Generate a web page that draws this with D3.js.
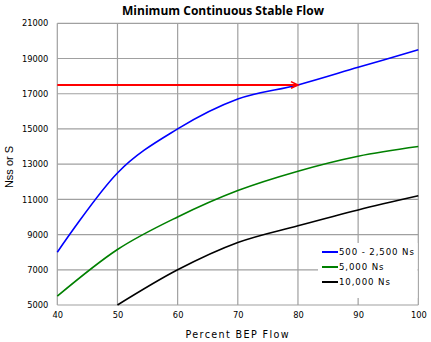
<!DOCTYPE html>
<html><head><meta charset="utf-8">
<script src="https://cdn.jsdelivr.net/npm/d3@7"></script>
<style>
html,body{margin:0;padding:0;background:#fff;}
svg{display:block;}
</style></head>
<body>
<svg id="c" width="431" height="342"></svg>
<script>
const title = "Minimum Continuous Stable Flow";
const xTitle = "Percent BEP Flow";
const yTitle = "Nss or S";
const xTicks = [40,50,60,70,80,90,100];
const yTicks = [5000,7000,9000,11000,13000,15000,17000,19000,21000];
const pct = [40,50,60,70,80,90,100];
const blueVals  = [8000,12500,15000,16700,17500,18500,19500];
const greenVals = [5500,8150,10000,11500,12600,13450,14000];
const pctBlack = [50,60,70,80,90,100];
const blackVals = [5000,7000,8550,9500,10400,11200];
const seriesNames = ["500 - 2,500 Ns","5,000 Ns","10,000 Ns"];
const seriesColors = ["#0000ff","#008000","#000000"];
const arrowY = 17500, arrowFrom = 40, arrowTo = 80;

const svg = d3.select("#c");
const x = d3.scaleLinear().domain([40,100]).range([57.3,418.3]);
const y = d3.scaleLinear().domain([5000,21000]).range([305,23.3]);

// grid
const g = svg.append("g");
g.selectAll("line.h").data(yTicks).join("line")
  .attr("x1",x(40)).attr("x2",x(100)).attr("y1",d=>y(d)).attr("y2",d=>y(d))
  .attr("stroke","#a0a0a0").attr("stroke-width",1.2);
g.selectAll("line.v").data(xTicks).join("line")
  .attr("y1",y(5000)).attr("y2",y(21000)).attr("x1",d=>x(d)).attr("x2",d=>x(d))
  .attr("stroke","#a0a0a0").attr("stroke-width",1.2);

// axes labels via d3 axes
const yAxis = svg.append("g").attr("transform",`translate(${x(40)},0)`)
  .call(d3.axisLeft(y).tickValues(yTicks).tickSize(0).tickPadding(9).tickFormat(d3.format("d")));
yAxis.select(".domain").remove();
yAxis.selectAll("text").attr("font-family","DejaVu Sans").attr("font-size","8.3px").attr("fill","#000");

const xAxis = svg.append("g").attr("transform",`translate(0,${y(5000)})`)
  .call(d3.axisBottom(x).tickValues(xTicks).tickSize(0).tickPadding(7).tickFormat(d3.format("d")));
xAxis.select(".domain").remove();
xAxis.selectAll("text").attr("font-family","DejaVu Sans").attr("font-size","8.3px").attr("fill","#000");

// lines
const line = d3.line().x(d=>x(d[0])).y(d=>y(d[1])).curve(d3.curveCardinal.tension(0));
const series = [
  pct.map((p,i)=>[p,blueVals[i]]),
  pct.map((p,i)=>[p,greenVals[i]]),
  pctBlack.map((p,i)=>[p,blackVals[i]])
];
svg.selectAll("path.s").data(series).join("path")
  .attr("d",line).attr("fill","none")
  .attr("stroke",(d,i)=>seriesColors[i]).attr("stroke-width",1.6);

// red arrow
svg.append("line").attr("x1",x(arrowFrom)).attr("x2",x(arrowTo)-1)
  .attr("y1",y(arrowY)).attr("y2",y(arrowY)).attr("stroke","#ff0000").attr("stroke-width",2);
const tx = x(arrowTo), ty = y(arrowY);
svg.append("path").attr("d",`M${tx-7},${ty-3.3}L${tx},${ty}L${tx-7},${ty+3.3}`)
  .attr("fill","none").attr("stroke","#ff0000").attr("stroke-width",1.6);

// legend
const lg = svg.append("g");
lg.append("rect").attr("x",318).attr("y",243).attr("width",99.5).attr("height",55).attr("fill","#fff");
const rowsY = [252,267,282];
seriesNames.forEach((n,i)=>{
  lg.append("line").attr("x1",322).attr("x2",338).attr("y1",rowsY[i]).attr("y2",rowsY[i])
    .attr("stroke",seriesColors[i]).attr("stroke-width",2);
  lg.append("text").attr("x",339).attr("y",rowsY[i]).attr("dy","0.35em")
    .attr("font-family","DejaVu Sans").attr("font-size","8.6px").attr("letter-spacing","0.9px")
    .text(n);
});

// titles
svg.append("text").attr("x",223).attr("y",14.5).attr("text-anchor","middle")
  .attr("font-family","Open Sans").attr("font-weight","bold").attr("font-size","11.5px")
  .attr("textLength",202).attr("lengthAdjust","spacingAndGlyphs").text(title);
svg.append("text").attr("x",237).attr("y",337.5).attr("text-anchor","middle")
  .attr("font-family","DejaVu Sans").attr("font-size","9.6px")
  .attr("textLength",103).attr("lengthAdjust","spacing").text(xTitle);
svg.append("text").attr("transform","translate(13,167) rotate(-90)").attr("text-anchor","middle")
  .attr("font-family","Liberation Sans").attr("font-size","11px").text(yTitle);
</script>
</body></html>
